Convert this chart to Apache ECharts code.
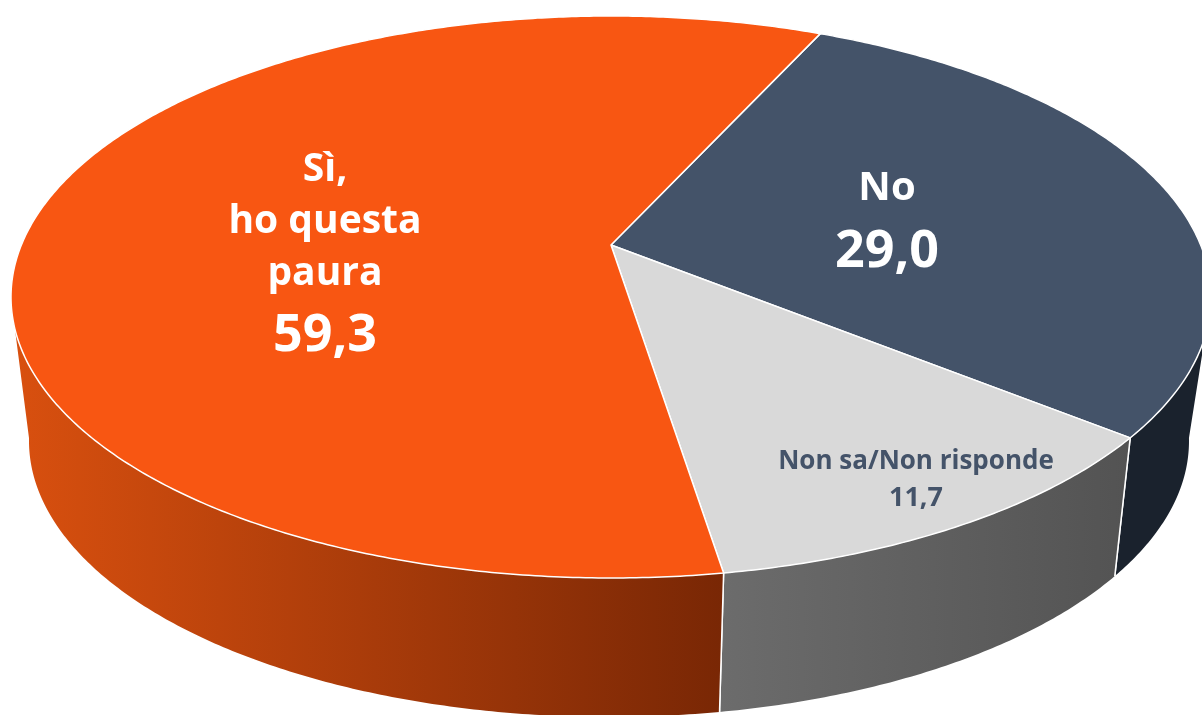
<!DOCTYPE html>
<html>
<head>
<meta charset="utf-8">
<title>Pie</title>
<style>
html, body { margin: 0; padding: 0; background: #fff; }
#chart { width: 1202px; height: 715px; }
</style>
<script src="https://cdn.jsdelivr.net/npm/echarts@6/dist/echarts.min.js"></script>
</head>
<body>
<div id="chart"></div>
<script>
var categories = ['No', 'Non sa/Non risponde', 'Sì,\nho questa\npaura'];
var values = [29.0, 11.7, 59.3];

var topColors = ['#445369', '#d9d9d9', '#f85612'];
var wallColors = [
    ['#1a222d', '#1a222d'],
    ['#6c6c6c', '#535353'],
    ['#d9500f', '#792705']
];
var labelColors = ['#fff', '#445369', '#fff'];
var labelAnchors = [[887, 227], [916, 480], [325, 258]];
// font size and line height, name then value
var labelSizes = [[40, 50, 52, 76], [26, 37, 27, 37], [39, 52, 52, 72]];

// ellipses of the top face and of the bottom rim, centre pulled up by perspective
var topFace = { cx: 611, cy: 297, rx: 600, ry: 281, shift: -0.185 };
var bottomRim = { cx: 609, cy: 441, rx: 580, ry: 276, shift: -0.2 };
var startAngle = 24.5;

// circle angle (clockwise from top) -> point on the ellipse, with the centre shifted
function unit(deg, a) {
    var t = deg * Math.PI / 180;
    var x = Math.sin(t), y = -Math.cos(t);
    var d = 1 + a * y;
    return [x * Math.sqrt(1 - a * a) / d, (y + a) / d];
}

function point(e, deg) {
    var p = unit(deg, e.shift);
    return [e.cx + e.rx * p[0], e.cy + e.ry * p[1]];
}

function angles(from, to) {
    var list = [];
    var n = Math.ceil((to - from) * 2);
    for (var i = 0; i <= n; i++) {
        list.push(from + (to - from) * i / n);
    }
    return list;
}

function isFront(deg) {
    return unit(deg, topFace.shift)[1] >= 0;
}

function renderSlice(params, api) {
    var i = params.dataIndex;
    var total = values.reduce(function (a, b) { return a + b; }, 0);
    var before = 0;
    for (var k = 0; k < i; k++) before += values[k];
    var a0 = startAngle + before / total * 360;
    var a1 = a0 + api.value(0) / total * 360;

    var rim = angles(a0, a1);
    var front = rim.filter(isFront);
    var children = [];

    if (front.length > 1) {
        var topEdge = front.map(function (d) { return point(topFace, d); });
        var lowEdge = front.map(function (d) { return point(bottomRim, d); }).reverse();
        var xs = topEdge.concat(lowEdge).map(function (p) { return p[0]; });
        var x0 = Math.min.apply(null, xs), x1 = Math.max.apply(null, xs);
        children.push({
            type: 'polygon',
            shape: { points: topEdge.concat(lowEdge) },
            style: {
                fill: {
                    type: 'linear', global: true, x: x0, y: 0, x2: x1, y2: 0,
                    colorStops: [
                        { offset: 0, color: wallColors[i][0] },
                        { offset: 1, color: wallColors[i][1] }
                    ]
                }
            }
        });
        [a0, a1].filter(isFront).forEach(function (d) {
            var p = point(topFace, d), q = point(bottomRim, d);
            children.push({
                type: 'line',
                shape: { x1: p[0], y1: p[1], x2: q[0], y2: q[1] },
                style: { stroke: '#fff', lineWidth: 1.5 }
            });
        });
    }

    var apex = [topFace.cx, topFace.cy + topFace.ry * topFace.shift];
    var face = [apex].concat(rim.map(function (d) { return point(topFace, d); }));
    children.push({
        type: 'polygon',
        shape: { points: face },
        style: { fill: topColors[i], stroke: '#fff', lineWidth: 1.5, lineJoin: 'round' }
    });

    var s = labelSizes[i];
    children.push({
        type: 'text',
        z2: 10,
        style: {
            x: labelAnchors[i][0],
            y: labelAnchors[i][1],
            align: 'center',
            verticalAlign: 'middle',
            text: '{n|' + categories[i].split('\n').join('}\n{n|') + '}\n{v|' + values[i].toFixed(1).replace('.', ',') + '}',
            rich: {
                n: {
                    fontFamily: 'Open Sans', fontWeight: 700, align: 'center',
                    fontSize: s[0], lineHeight: s[1], fill: labelColors[i]
                },
                v: {
                    fontFamily: 'Open Sans', fontWeight: 700, align: 'center',
                    fontSize: s[2], lineHeight: s[3], fill: labelColors[i]
                }
            }
        }
    });

    return { type: 'group', children: children };
}

var chart = echarts.init(document.getElementById('chart'));
chart.setOption({
    backgroundColor: '#fff',
    animation: false,
    tooltip: { show: false },
    series: [{
        type: 'custom',
        coordinateSystem: 'none',
        silent: true,
        renderItem: renderSlice,
        data: values.map(function (v) { return [v]; })
    }]
});
</script>
</body>
</html>
